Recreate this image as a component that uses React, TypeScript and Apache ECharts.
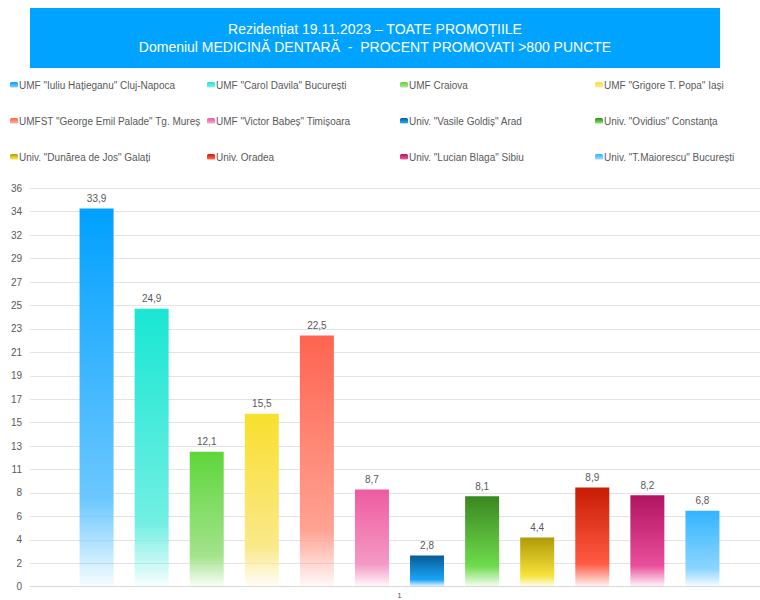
import React, { useEffect, useRef } from "react";
import * as echarts from "echarts";

const titleLine1 = "Rezidențiat 19.11.2023 – TOATE PROMOȚIILE";
const titleLine2 = "Domeniul MEDICINĂ DENTARĂ  -  PROCENT PROMOVATI >800 PUNCTE";

const categories = ["1"];

const seriesNames = [
  'UMF "Iuliu Hațieganu" Cluj-Napoca',
  'UMF "Carol Davila" București',
  "UMF Craiova",
  'UMF "Grigore T. Popa" Iași',
  'UMFST "George Emil Palade" Tg. Mureș',
  'UMF "Victor Babeș" Timișoara',
  'Univ. "Vasile Goldiș" Arad',
  'Univ. "Ovidius" Constanța',
  'Univ. "Dunărea de Jos" Galați',
  "Univ. Oradea",
  'Univ. "Lucian Blaga" Sibiu',
  'Univ. "T.Maiorescu" București',
];

const seriesValues = [33.9, 24.9, 12.1, 15.5, 22.5, 8.7, 2.8, 8.1, 4.4, 8.9, 8.2, 6.8];

const topColors = [
  "#00A0FF", "#19E6D3", "#5ED63A", "#F9DF2E", "#FF6450", "#EE5BA0",
  "#085C96", "#3A8720", "#B09A08", "#C81C04", "#B0135F", "#33B4FF",
];
const midColors = [
  "#6CC8FF", "#72EFE3", "#A3E38C", "#FAE98A", "#FFA292", "#F49AC4",
  "#1AA4F5", "#6EDB4C", "#F6E23A", "#FF5B42", "#EA4F9B", "#8CD6FF",
];

const yTickLabels = ["0", "2", "4", "6", "8", "11", "13", "15", "17", "19", "21", "23", "25", "27", "29", "32", "34", "36"];
const yMax = 35.7;
const yInterval = 2.1;

const FONT = "'Liberation Sans', Arial, sans-serif";

function hexToRgba(hex: string, a: number) {
  const n = parseInt(hex.slice(1), 16);
  return `rgba(${(n >> 16) & 255},${(n >> 8) & 255},${n & 255},${a})`;
}

export default function App() {
  const ref = useRef<HTMLDivElement>(null);
  useEffect(() => {
    if (!ref.current) return;
    const chart = echarts.init(ref.current, null, { renderer: "svg" });

    const legendCols = [10, 207, 400, 595];
    const legendRows = [80, 116, 152];

    const legends = seriesNames.map((name, i) => ({
      data: [name],
      left: legendCols[i % 4],
      top: legendRows[Math.floor(i / 4)],
      padding: 0,
      itemWidth: 8,
      itemHeight: 6,
      selectedMode: false,
      textStyle: { fontSize: 10, color: "#595959", fontFamily: FONT, padding: [0, 0, 0, -4] },
    }));

    const series = seriesNames.map((name, i) => ({
      name,
      type: "bar",
      data: [seriesValues[i]],
      barWidth: 34,
      barGap: "62%",
      itemStyle: {
        color: {
          type: "linear",
          x: 0, y: 0, x2: 0, y2: 1,
          colorStops: [
            { offset: 0, color: topColors[i] },
            { offset: 0.77, color: midColors[i] },
            { offset: 1, color: hexToRgba(midColors[i], 0.05) },
          ],
        },
      },
      label: {
        show: true,
        position: "top",
        distance: 5,
        fontSize: 10,
        color: "#595959",
        fontFamily: FONT,
        formatter: (p: any) => String(p.value).replace(".", ","),
      },
    }));

    chart.setOption({
      animation: false,
      textStyle: { fontFamily: FONT },
      graphic: [
        { type: "rect", shape: { x: 30, y: 8, width: 690, height: 60 }, style: { fill: "#00A3FF" }, z: 0 },
      ],
      title: {
        text: titleLine1 + "\n" + titleLine2,
        left: 375,
        top: 20,
        textAlign: "center",
        padding: 0,
        textStyle: { color: "#FFFFFF", fontSize: 14, fontWeight: "normal", fontFamily: FONT, lineHeight: 18 },
      },
      legend: legends,
      grid: { left: 30, right: 11, top: 188.3, bottom: 13.3, containLabel: false },
      xAxis: {
        type: "category",
        data: categories,
        axisLine: { lineStyle: { color: "#D9D9D9", width: 1 } },
        axisTick: { show: false },
        axisLabel: { fontSize: 8, color: "#595959", margin: 5, fontFamily: FONT },
      },
      yAxis: {
        type: "value",
        min: 0,
        max: yMax,
        interval: yInterval,
        axisLine: { show: false },
        axisTick: { show: false },
        splitLine: { lineStyle: { color: "#E3E3E3", width: 1 } },
        axisLabel: {
          fontSize: 10,
          color: "#595959",
          margin: 8,
          fontFamily: FONT,
          formatter: (v: number) => yTickLabels[Math.round(v / yInterval)] ?? "",
        },
      },
      series,
    });
    return () => chart.dispose();
  }, []);
  return (
    <div
      style={{ position: "absolute", left: 0, top: 0, width: 760, height: 600, overflow: "hidden", background: "#FFFFFF" }}
    >
      <div ref={ref} style={{ width: 780, height: 600 }} />
    </div>
  );
}
